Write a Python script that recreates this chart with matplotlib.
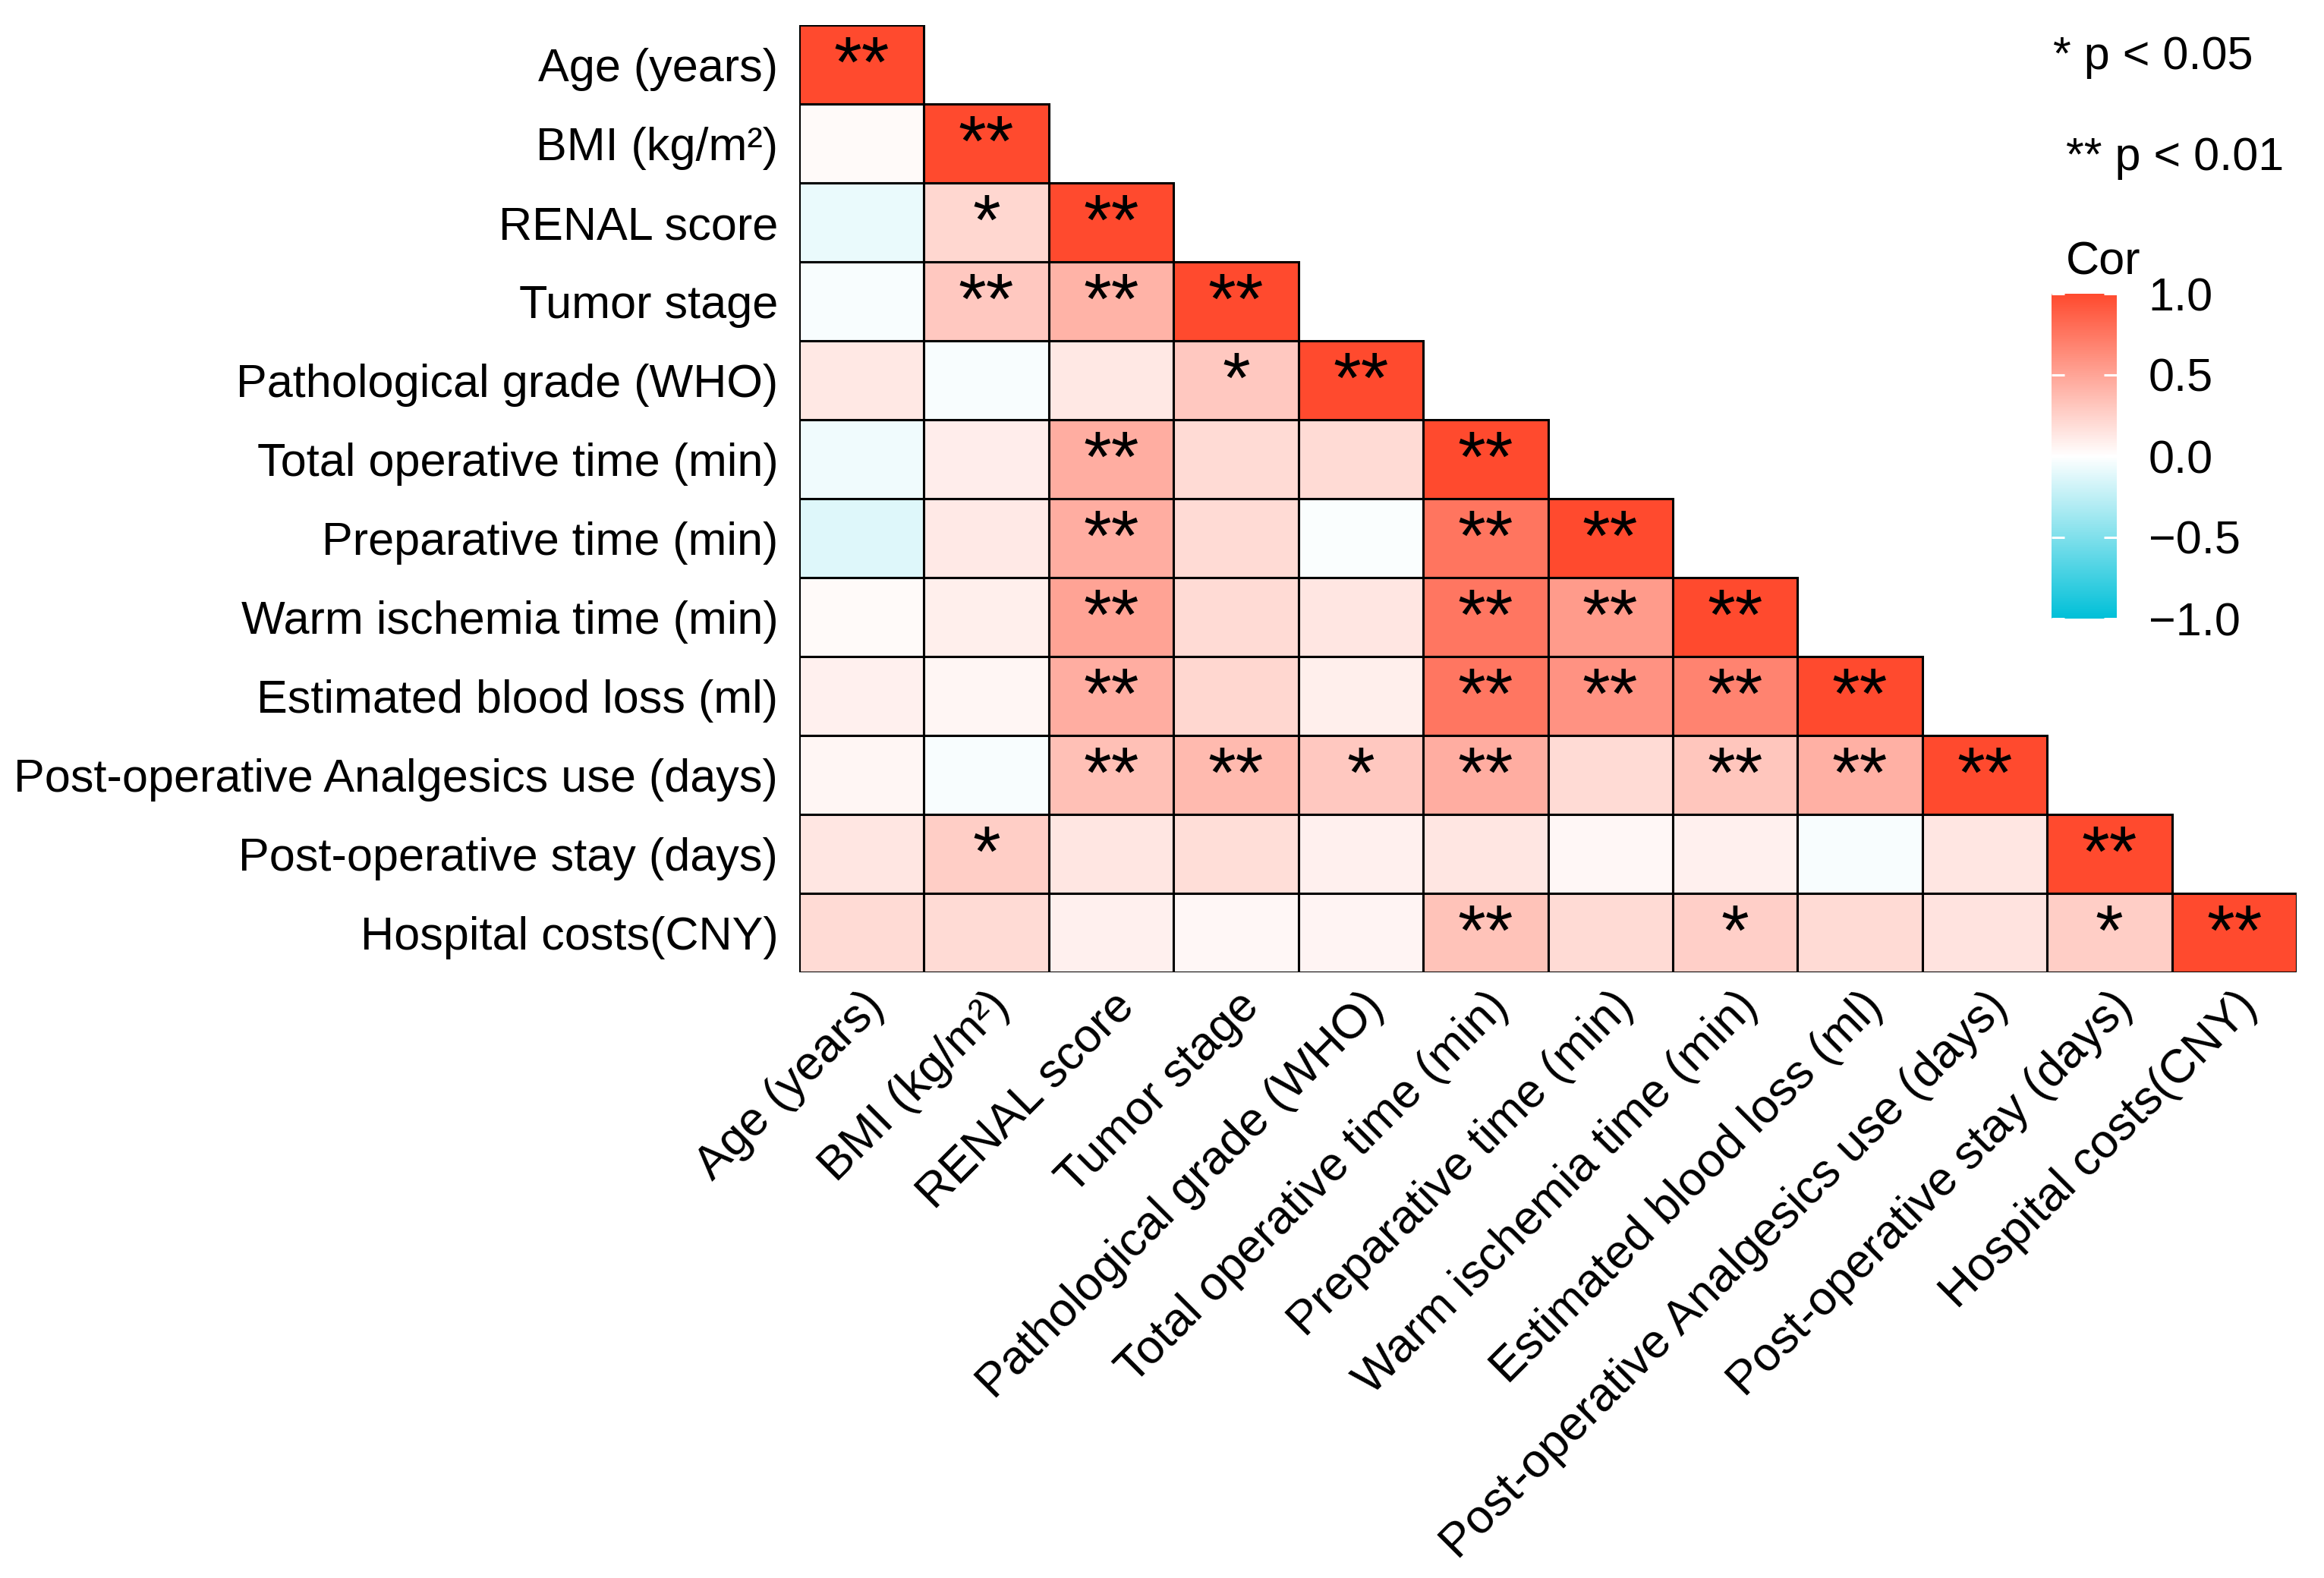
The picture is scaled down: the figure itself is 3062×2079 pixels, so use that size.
import numpy as np
import matplotlib
matplotlib.use('Agg')
import matplotlib.pyplot as plt
from matplotlib.colors import LinearSegmentedColormap, Normalize
from matplotlib.patches import Rectangle
from matplotlib.transforms import ScaledTranslation, blended_transform_factory
import matplotlib.cm as cm

plt.rcParams['font.family'] = ['Liberation Sans', 'DejaVu Sans']

# variable names (rows top->bottom, columns left->right)
labels = ['Age (years)', 'BMI (kg/m²)', 'RENAL score', 'Tumor stage',
          'Pathological grade (WHO)', 'Total operative time (min)',
          'Preparative time (min)', 'Warm ischemia time (min)',
          'Estimated blood loss (ml)', 'Post-operative Analgesics use (days)',
          'Post-operative stay (days)', 'Hospital costs(CNY)']

# lower triangle of the correlation matrix
cor_rows = [
    [1.00],
    [0.03, 1.00],
    [-0.08, 0.22, 1.00],
    [-0.03, 0.30, 0.42, 1.00],
    [0.13, -0.03, 0.13, 0.30, 1.00],
    [-0.06, 0.10, 0.45, 0.20, 0.20, 1.00],
    [-0.13, 0.12, 0.45, 0.20, -0.02, 0.76, 1.00],
    [0.03, 0.09, 0.50, 0.20, 0.14, 0.75, 0.55, 1.00],
    [0.08, 0.05, 0.45, 0.22, 0.09, 0.75, 0.60, 0.68, 1.00],
    [0.05, -0.03, 0.35, 0.38, 0.30, 0.45, 0.20, 0.32, 0.43, 1.00],
    [0.14, 0.27, 0.14, 0.18, 0.08, 0.14, 0.04, 0.08, -0.03, 0.14, 1.00],
    [0.20, 0.20, 0.08, 0.04, 0.06, 0.33, 0.20, 0.26, 0.20, 0.15, 0.27, 1.00],
]

# significance marks
sig_rows = [
    ['**'],
    ['', '**'],
    ['', '*', '**'],
    ['', '**', '**', '**'],
    ['', '', '', '*', '**'],
    ['', '', '**', '', '', '**'],
    ['', '', '**', '', '', '**', '**'],
    ['', '', '**', '', '', '**', '**', '**'],
    ['', '', '**', '', '', '**', '**', '**', '**'],
    ['', '', '**', '**', '*', '**', '', '**', '**', '**'],
    ['', '*', '', '', '', '', '', '', '', '', '**'],
    ['', '', '', '', '', '**', '', '*', '', '', '*', '**'],
]

cbar_ticks = [-1.0, -0.5, 0.0, 0.5, 1.0]
cbar_labels = ['\u22121.0', '\u22120.5', '0.0', '0.5', '1.0']
legend_lines = ['* p < 0.05', '** p < 0.01']

W, H = 3062, 2079
fig = plt.figure(figsize=(W / 100, H / 100), dpi=100)

cmap = LinearSegmentedColormap.from_list('cor', ['#00C0D8', '#FFFFFF', '#FF4A2E'])
norm = Normalize(vmin=-1, vmax=1)

n = len(labels)
ax = fig.add_axes([1053 / W, 1 - 1281 / H, 1973 / W, 1248 / H])
ax.set_xlim(0, n)
ax.set_ylim(n, 0)

for i, row in enumerate(cor_rows):
    for j, r in enumerate(row):
        ax.add_patch(Rectangle((j, i), 1, 1, facecolor=cmap(norm(r)),
                               edgecolor='black', linewidth=2.2))
        s = sig_rows[i][j]
        if s:
            ax.text(j + 0.5, i + 0.78, s, ha='center', va='baseline',
                    fontsize=68, color='black')

for sp in ax.spines.values():
    sp.set_visible(False)

ax.set_yticks(np.arange(n) + 0.5)
ax.set_yticklabels(labels, fontsize=44)
ax.tick_params(axis='y', length=0, pad=20)
ax.set_xticks([])

# rotated x labels
tr = blended_transform_factory(ax.transData, ax.transAxes)
off = ScaledTranslation(0.0, -0.15, fig.dpi_scale_trans)
for j, lab in enumerate(labels):
    ax.text(j + 0.5, 0, lab, transform=tr + off, rotation=45,
            rotation_mode='anchor', ha='right', va='top', fontsize=45)

# colour bar
cax = fig.add_axes([2703 / W, 1 - 815 / H, 86 / W, 428 / H])
sm = cm.ScalarMappable(norm=norm, cmap=cmap)
cb = fig.colorbar(sm, cax=cax)
cb.outline.set_visible(False)
cb.set_ticks(cbar_ticks)
cb.set_ticklabels(cbar_labels)
cax.tick_params(direction='in', color='white', length=12, width=2.2,
                left=True, right=True, labelsize=44, pad=30)
fig.text(2722 / W, 1 - 346 / H, 'Cor', fontsize=44, va='center', ha='left')

fig.text(2705 / W, 1 - 76 / H, legend_lines[0], fontsize=44, va='center', ha='left')
fig.text(2722 / W, 1 - 209 / H, legend_lines[1], fontsize=44, va='center', ha='left')

fig.savefig('out.png', dpi=100, facecolor='white')
